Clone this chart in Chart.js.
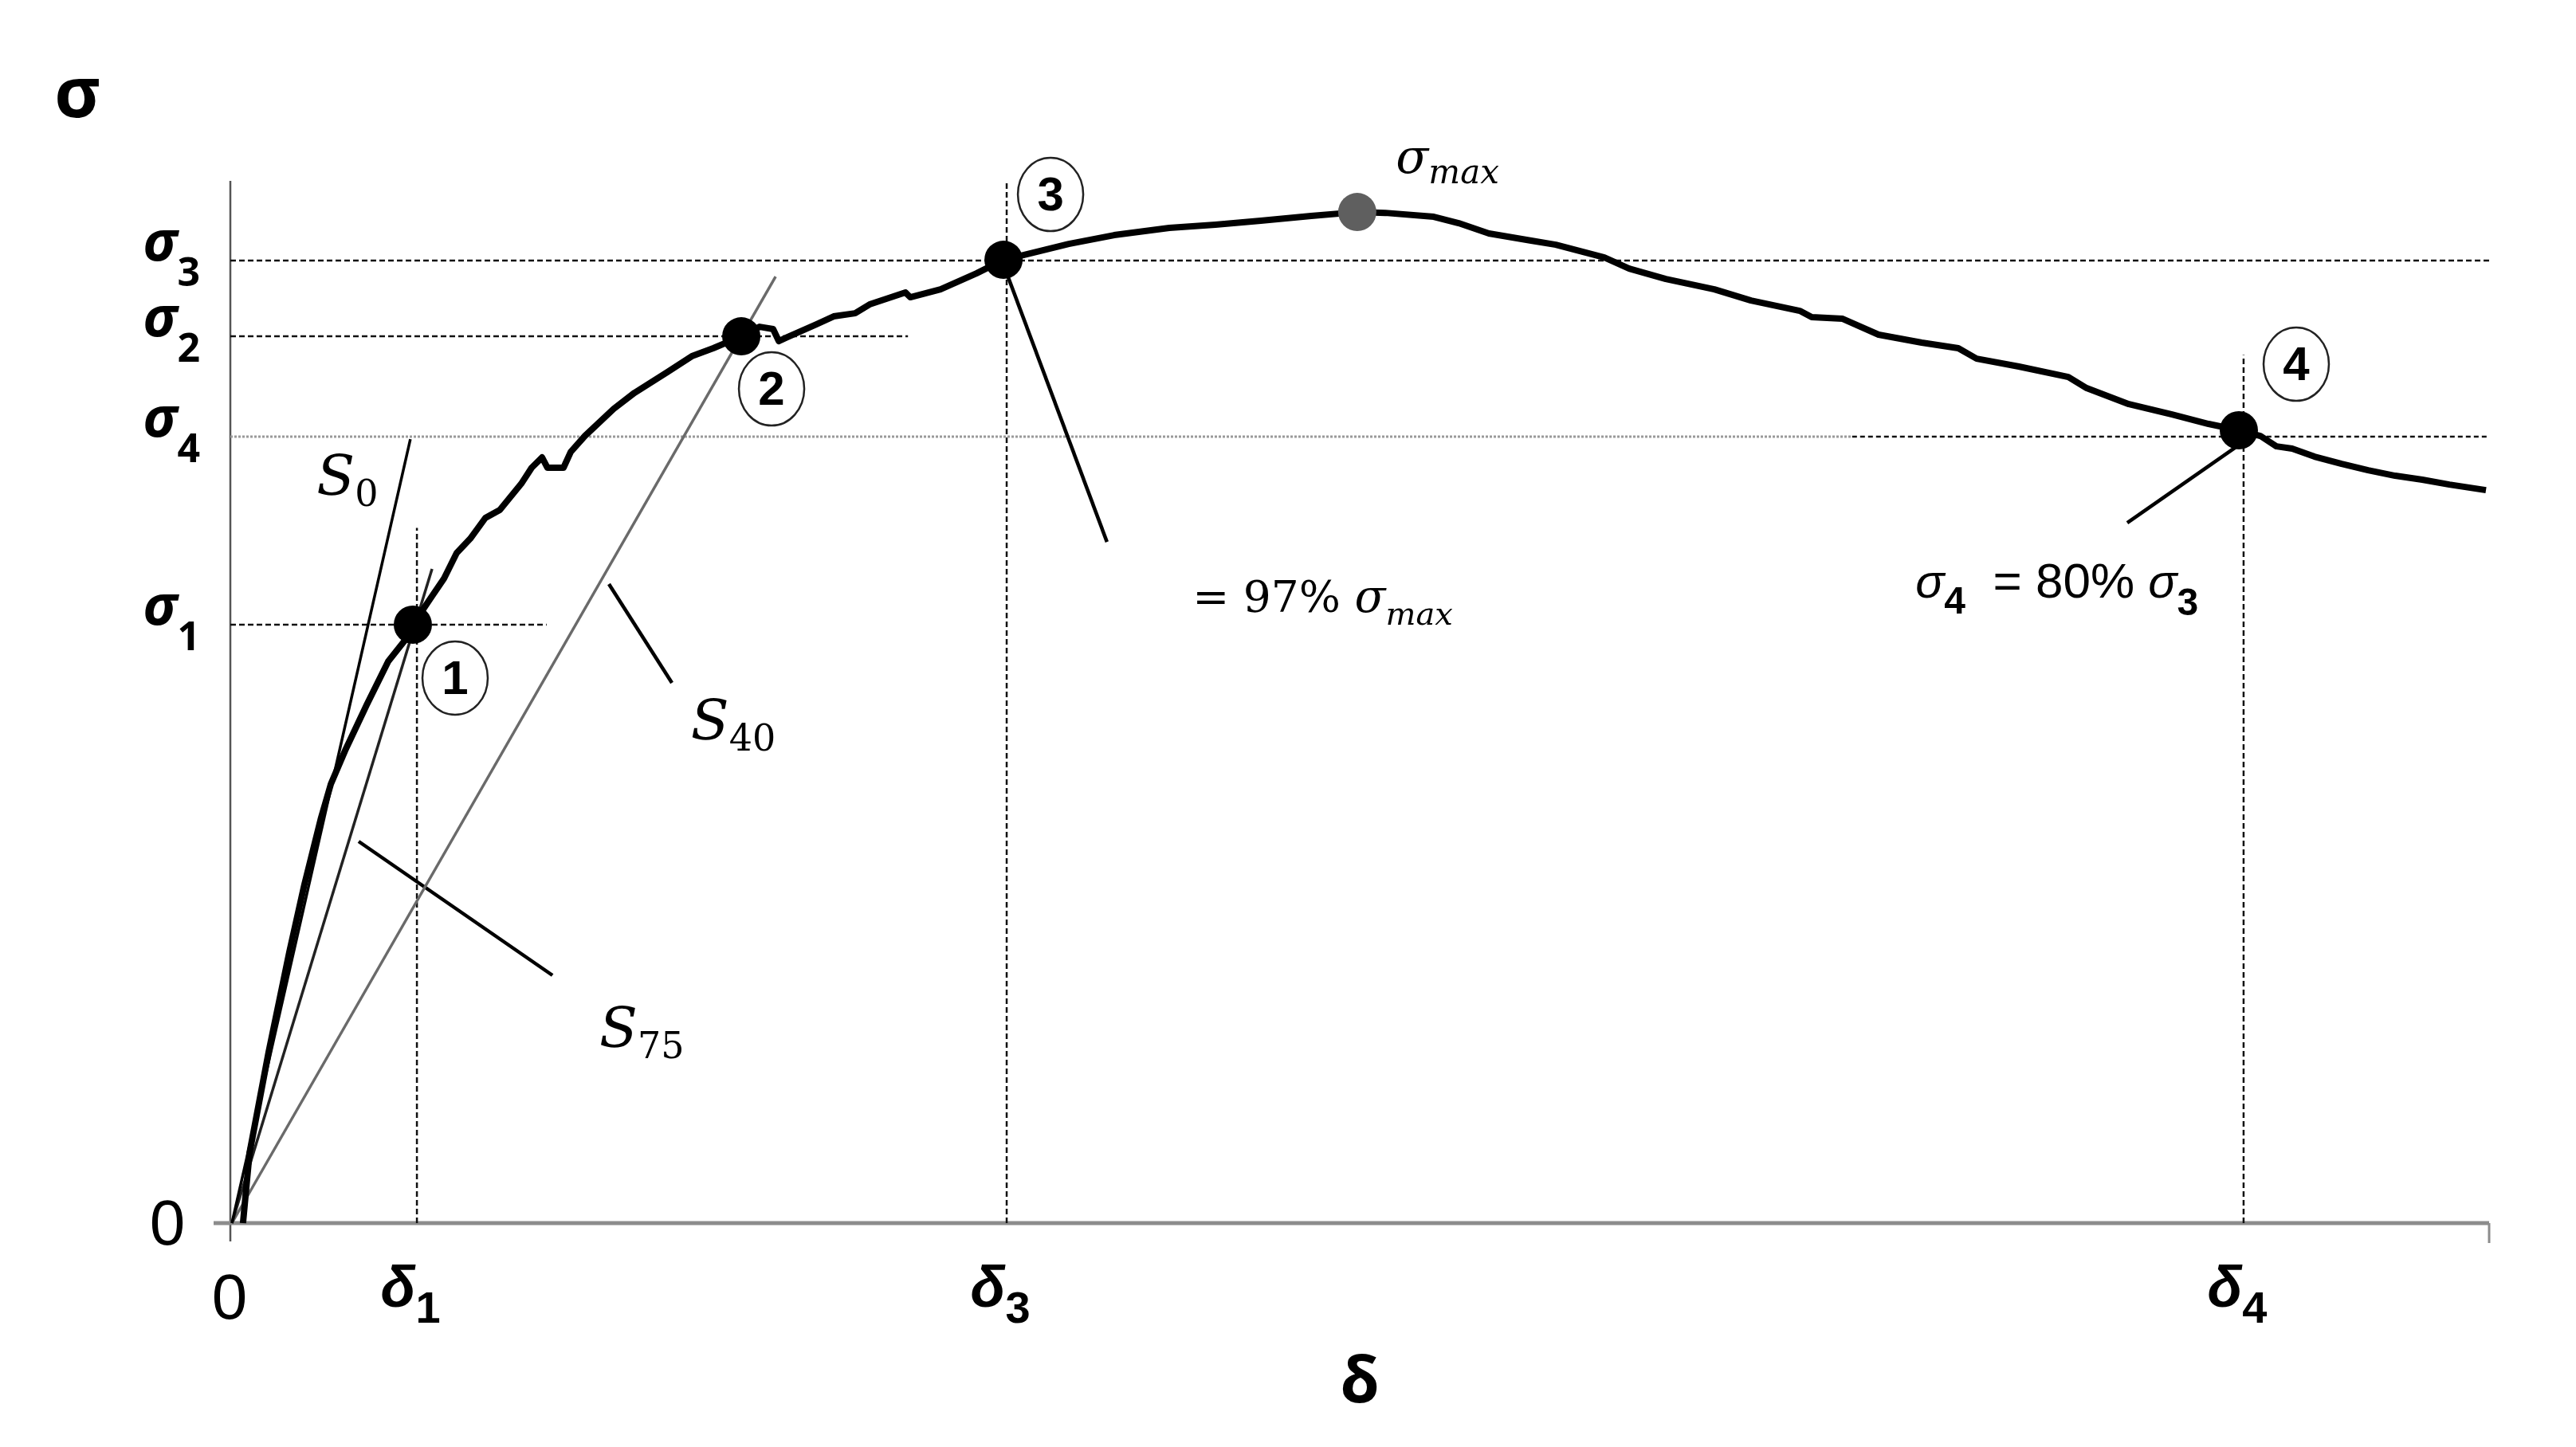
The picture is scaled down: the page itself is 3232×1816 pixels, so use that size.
<!DOCTYPE html>
<html>
<head>
<meta charset="utf-8">
<script src="https://cdn.jsdelivr.net/npm/chart.js@4.4.0/dist/chart.umd.min.js"></script>
<style>
  html, body { margin: 0; padding: 0; background: #fff; }
  canvas { display: block; }
</style>
</head>
<body>
<canvas id="stressChart" width="3232" height="1816"></canvas>
<script>
// test curve, displacement δ vs stress σ (arbitrary units, σmax ~ 100)
const curveDelta = [0.56, 0.85, 1.69, 2.61, 3.28, 4.02, 4.45, 5.08, 6.03, 6.99, 7.69, 8.08, 8.86, 9.46, 10.02,
  10.62, 11.29, 11.93, 12.88, 13.34, 13.80, 14.04, 14.75, 15.07, 15.70, 16.97, 17.89, 19.34, 20.43, 21.38,
  22.62, 23.43, 24.03, 24.28, 24.66, 25.94, 26.71, 27.66, 28.30, 29.89, 30.10, 31.44, 33.03, 34.23, 35.11,
  37.12, 39.13, 41.57, 43.61, 45.62, 47.85, 49.89, 51.13, 53.28, 54.38, 55.72, 57.59, 58.68, 60.83, 61.93,
  63.55, 65.70, 67.32, 69.48, 70.01, 71.38, 72.97, 74.88, 76.50, 77.31, 79.18, 81.37, 82.18, 84.05, 85.96,
  87.58, 88.92, 89.87, 90.58, 91.28, 92.27, 93.47, 94.64, 95.84, 97.04, 98.24, 99.86];
const curveStress = [0, 6.93, 16.85, 26.77, 33.47, 40.08, 43.39, 46.69, 51.18, 55.51, 57.48, 59.14, 61.73, 63.70, 66.22,
  67.64, 69.69, 70.48, 73.07, 74.65, 75.67, 74.65, 74.65, 76.22, 77.80, 80.47, 82.05, 84.10, 85.67, 86.46,
  87.64, 88.58, 88.35, 87.17, 87.56, 88.82, 89.61, 89.92, 90.79, 91.97, 91.50, 92.28, 93.86, 95.20, 95.67,
  96.77, 97.64, 98.35, 98.66, 99.06, 99.53, 99.92, 99.84, 99.45, 98.82, 97.80, 97.09, 96.69, 95.43, 94.33,
  93.31, 92.28, 91.18, 90.16, 89.53, 89.37, 87.80, 87.01, 86.46, 85.43, 84.65, 83.62, 82.52, 80.94, 79.92,
  78.98, 78.35, 77.80, 76.77, 76.54, 75.75, 75.04, 74.41, 73.86, 73.47, 72.99, 72.44];

// characteristic points 1..4 and the peak
const pointNames = ['1', '2', '3', '4'];
const pointDelta = [8.08, 22.62, 34.23, 88.92];
const pointStress = [59.14, 87.64, 95.20, 78.35];
const peakDelta = 49.89;
const peakStress = 99.92;

// stress levels σ1..σ4 and how far their guide lines run
const sigmaNames = ['1', '2', '3', '4'];
const sigmaLevels = [59.13, 87.64, 95.12, 77.72];
const sigmaGuideEnd = [14.0, 30.0, 100, 100];
const sigma4FaintEnd = 71.8;

// displacement levels δ1, δ3, δ4
const deltaNames = ['1', '3', '4'];
const deltaLevels = [8.26, 34.37, 89.13];
const deltaGuideTop = [68.7, 103, 85.8];

// secant stiffness lines S0, S75, S40 (from origin)
const slopeNames = ['0', '75', '40'];
const slopeEndDelta = [7.97, 8.93, 24.14];
const slopeEndStress = [77.48, 64.65, 93.54];

// leader lines (S75, S40, point 3 note, point 4 note)
const leaderStartDelta = [5.68, 16.76, 34.40, 88.99];
const leaderStartStress = [37.72, 63.15, 93.70, 77.01];
const leaderEndDelta = [14.26, 19.55, 38.81, 83.98];
const leaderEndStress = [24.49, 53.39, 67.32, 69.21];

const xMax = 100;
const yMax = 103;

const NARROW = '"Liberation Sans Narrow", "Liberation Sans", sans-serif';
const SERIF = '"DejaVu Serif", serif';

function segment(x0, y0, x1, y1, color, width, dash, order) {
  return {
    type: 'line',
    data: [{ x: x0, y: y0 }, { x: x1, y: y1 }],
    borderColor: color,
    borderWidth: width,
    borderDash: dash || [],
    pointRadius: 0,
    fill: false,
    clip: false,
    order: order
  };
}

const datasets = [];

// marker dots
datasets.push({
  type: 'scatter',
  data: pointDelta.map((d, i) => ({ x: d, y: pointStress[i] })),
  backgroundColor: '#000',
  borderWidth: 0,
  pointRadius: 24,
  clip: false,
  order: 0
});
datasets.push({
  type: 'scatter',
  data: [{ x: peakDelta, y: peakStress }],
  backgroundColor: '#5f5f5f',
  borderWidth: 0,
  pointRadius: 24,
  clip: false,
  order: 0
});

// the measured curve
datasets.push({
  type: 'line',
  data: curveDelta.map((d, i) => ({ x: d, y: curveStress[i] })),
  borderColor: '#000',
  borderWidth: 8,
  borderJoinStyle: 'round',
  pointRadius: 0,
  tension: 0,
  fill: false,
  clip: false,
  order: 1
});

// stiffness lines
slopeNames.forEach((n, i) => {
  const colors = ['#000', '#222', '#6a6a6a'];
  datasets.push(segment(0.07, 0, slopeEndDelta[i], slopeEndStress[i], colors[i], 3.5, null, 2));
});

// leaders
leaderStartDelta.forEach((d, i) => {
  datasets.push(segment(d, leaderStartStress[i], leaderEndDelta[i], leaderEndStress[i], '#000', 4.5, null, 2));
});

// horizontal guides
sigmaLevels.forEach((s, i) => {
  if (sigmaNames[i] === '4') {
    datasets.push(segment(0, s, sigma4FaintEnd, s, '#9a9a9a', 3, [3, 2], 3));
    datasets.push(segment(sigma4FaintEnd, s, sigmaGuideEnd[i], s, '#111', 2.5, [6, 4], 3));
  } else {
    datasets.push(segment(0, s, sigmaGuideEnd[i], s, '#111', 2.5, [7, 4], 3));
  }
});

// vertical guides
deltaLevels.forEach((d, i) => {
  datasets.push(segment(d, 0, d, deltaGuideTop[i], '#111', 2.5, [7, 4], 3));
});

function subText(ctx, base, sub, x, y, baseFont, subFont, drop, align) {
  ctx.font = baseFont;
  const wb = ctx.measureText(base).width;
  ctx.font = subFont;
  const ws = ctx.measureText(sub).width;
  let left = x;
  if (align === 'right') left = x - wb - ws;
  if (align === 'center') left = x - (wb + ws) / 2;
  ctx.textAlign = 'left';
  ctx.textBaseline = 'alphabetic';
  ctx.font = baseFont;
  ctx.fillText(base, left, y);
  ctx.font = subFont;
  ctx.fillText(sub, left + wb, y + drop);
  return left + wb + ws;
}

const decorations = {
  id: 'decorations',
  beforeDatasetsDraw(chart) {
    const { ctx, scales: { x, y } } = chart;
    const x0 = x.getPixelForValue(0);
    const y0 = y.getPixelForValue(0);
    const xEnd = x.getPixelForValue(xMax);
    ctx.save();
    // y axis
    ctx.strokeStyle = '#555';
    ctx.lineWidth = 2.5;
    ctx.beginPath();
    ctx.moveTo(x0, y.getPixelForValue(yMax));
    ctx.lineTo(x0, y0 + 23);
    ctx.stroke();
    // x axis
    ctx.strokeStyle = '#8c8c8c';
    ctx.lineWidth = 5;
    ctx.beginPath();
    ctx.moveTo(x0 - 21, y0);
    ctx.lineTo(xEnd, y0);
    ctx.stroke();
    ctx.lineWidth = 3;
    ctx.beginPath();
    ctx.moveTo(xEnd, y0);
    ctx.lineTo(xEnd, y0 + 25);
    ctx.stroke();
    ctx.restore();
  },
  afterDatasetsDraw(chart) {
    const { ctx, scales: { x, y } } = chart;
    const x0 = x.getPixelForValue(0);
    const y0 = y.getPixelForValue(0);
    ctx.save();
    ctx.fillStyle = '#000';

    // axis titles
    ctx.textAlign = 'center';
    ctx.textBaseline = 'alphabetic';
    ctx.font = 'bold 88px "Open Sans", sans-serif';
    ctx.fillText('σ', 97, 147);
    ctx.font = 'bold 80px "Open Sans", sans-serif';
    ctx.fillText('δ', x.getPixelForValue(xMax / 2), 1760);

    // zero labels
    ctx.font = '80px ' + NARROW;
    ctx.fillText('0', x0 - 79, y0 + 27);
    ctx.fillText('0', x0 - 1, y0 + 120);

    // σ tick labels
    sigmaLevels.forEach((s, i) => {
      const py = y.getPixelForValue(s);
      subText(ctx, 'σ', sigmaNames[i], x0 - 38, py, 'italic bold 70px "Open Sans", sans-serif',
        'bold 50px "Open Sans", sans-serif', 32, 'right');
    });

    // δ tick labels
    deltaLevels.forEach((d, i) => {
      const px = x.getPixelForValue(d);
      subText(ctx, 'δ', deltaNames[i], px - 8, y0 + 105, 'italic bold 72px ' + NARROW,
        'bold 56px ' + NARROW, 20, 'center');
    });

    // stiffness labels
    const slopeLabelAt = [[3.82, 71.97], [16.34, 17.40], [20.39, 47.80]];
    slopeNames.forEach((n, i) => {
      const [lx, ly] = slopeLabelAt[i];
      subText(ctx, 'S', n, x.getPixelForValue(lx), y.getPixelForValue(ly),
        'italic 70px ' + SERIF, '46px ' + SERIF, 14, 'left');
    });

    // peak label
    subText(ctx, 'σ', 'max', x.getPixelForValue(51.6), y.getPixelForValue(103.8),
      'italic 60px ' + SERIF, 'italic 42px ' + SERIF, 13, 'left');

    // = 97% σmax
    ctx.font = '55px ' + SERIF;
    ctx.textAlign = 'left';
    let px = x.getPixelForValue(42.6);
    const py = y.getPixelForValue(60.4);
    ctx.fillText('= 97% ', px, py);
    px += ctx.measureText('= 97% ').width;
    subText(ctx, 'σ', 'max', px, py, 'italic 57px ' + SERIF, 'italic 40px ' + SERIF, 16, 'left');

    // σ4 = 80% σ3
    let qx = x.getPixelForValue(74.6);
    const qy = y.getPixelForValue(61.8);
    qx = subText(ctx, 'σ', '4', qx, qy, 'italic 60px ' + NARROW, 'bold 48px ' + NARROW, 20, 'left');
    ctx.font = '62px ' + NARROW;
    ctx.textAlign = 'left';
    ctx.fillText('  = 80% ', qx, qy);
    qx += ctx.measureText('  = 80% ').width;
    subText(ctx, 'σ', '3', qx, qy, 'italic 60px ' + NARROW, 'bold 48px ' + NARROW, 22, 'left');

    // circled point numbers
    const circleOffset = [[53, 67], [38, 66], [59, -82], [72, -83]];
    pointNames.forEach((n, i) => {
      const cx = x.getPixelForValue(pointDelta[i]) + circleOffset[i][0];
      const cy = y.getPixelForValue(pointStress[i]) + circleOffset[i][1];
      ctx.beginPath();
      ctx.ellipse(cx, cy, 41, 46, 0, 0, Math.PI * 2);
      ctx.fillStyle = '#fff';
      ctx.fill();
      ctx.strokeStyle = '#222';
      ctx.lineWidth = 2.5;
      ctx.stroke();
      ctx.fillStyle = '#000';
      ctx.font = 'bold 60px ' + NARROW;
      ctx.textAlign = 'center';
      ctx.textBaseline = 'middle';
      ctx.fillText(n, cx, cy + 3);
    });
    ctx.restore();
  }
};

new Chart(document.getElementById('stressChart'), {
  type: 'scatter',
  data: { datasets: datasets },
  options: {
    responsive: false,
    animation: false,
    layout: { padding: { left: 289, right: 109, top: 227, bottom: 281 } },
    scales: {
      x: { type: 'linear', min: 0, max: xMax, display: false },
      y: { type: 'linear', min: 0, max: yMax, display: false }
    },
    plugins: {
      legend: { display: false },
      tooltip: { enabled: false }
    }
  },
  plugins: [decorations]
});
</script>
</body>
</html>
